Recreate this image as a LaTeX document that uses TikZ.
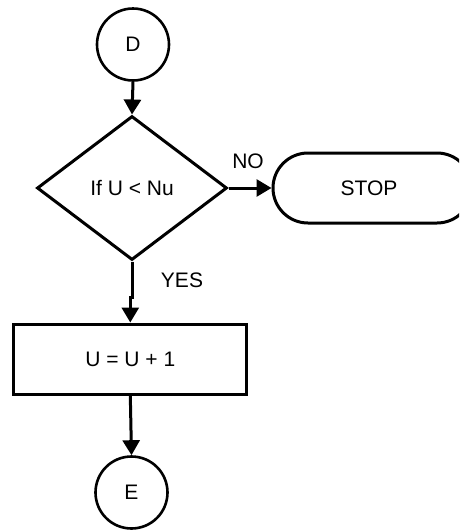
\documentclass[tikz,border=0pt]{standalone}
\usepackage{fontspec}
\setmainfont{Liberation Sans}
\usetikzlibrary{shapes.geometric,shapes.misc,arrows.meta}
\tikzset{
  base/.style={draw=black, line width=2.6pt, inner sep=0pt, font=\fontsize{21}{25}\selectfont},
  conn/.style={circle, base, minimum size=72pt},
  decision/.style={diamond, base, line width=3pt, minimum width=190pt, minimum height=144pt},
  term/.style={rounded rectangle, base, line width=3pt, minimum width=199pt, minimum height=70pt},
  proc/.style={rectangle, base, line width=3pt, minimum width=233pt, minimum height=70pt},
  flow/.style={line width=3pt, -{Triangle[length=15pt,width=17pt]}},
  lbl/.style={font=\fontsize{21}{25}\selectfont, inner sep=0pt}
}
\begin{document}
\begin{tikzpicture}[x=1pt,y=-1pt]
\clip (0,0) rectangle (459,531);
\fill[white] (0,0) rectangle (459,531);
\node[conn] (D) at (133,44.5) {D};
\node[decision] (dec) at (132,188) {If U < Nu};
\node[term] (stop) at (372.5,188) {\hspace*{-7pt}STOP};
\node[proc] (upd) at (130.3,359) {U = U + 1};
\node[conn] (E) at (131.5,492.5) {E};
\node[lbl] (no) at (248,161) {NO};
\node[lbl] (yes) at (182,280) {YES};
\draw[flow] (D.south) -- (dec.north);
\draw[flow] (dec.east) -- (stop.west);
\draw[flow] (dec.south) -- ++(0,36) -| (upd.north);
\draw[flow] (upd.south) -- (E.north);
\end{tikzpicture}
\end{document}
